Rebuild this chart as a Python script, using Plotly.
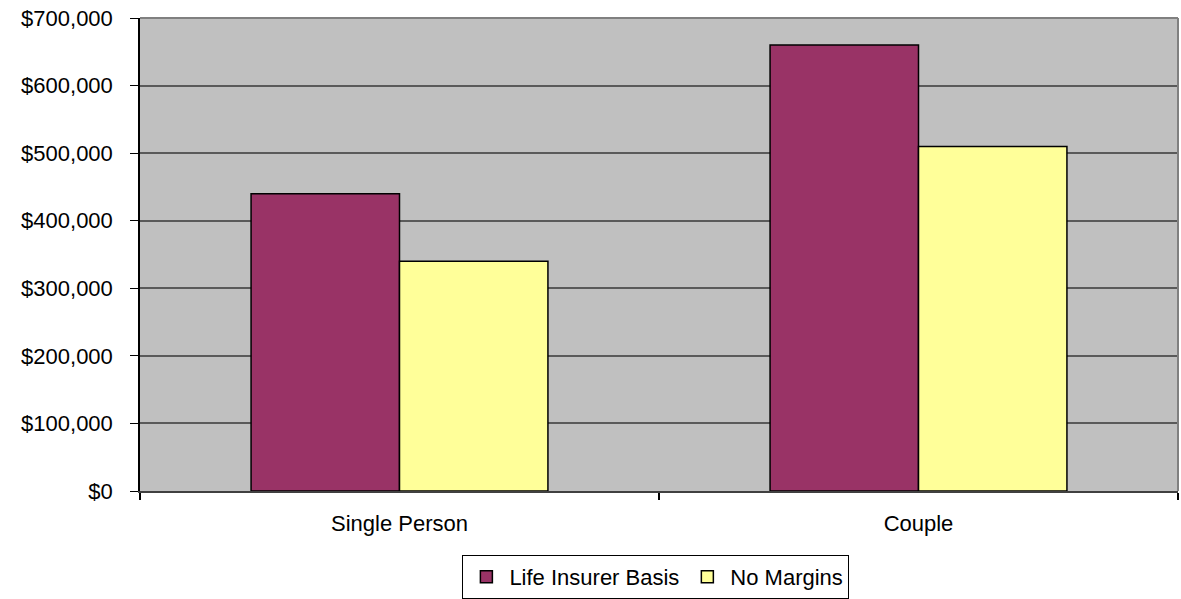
import plotly.graph_objects as go

categories = ["Single Person", "Couple"]
life_insurer_basis = [440000, 660000]
no_margins = [340000, 510000]
y_ticks = [0, 100000, 200000, 300000, 400000, 500000, 600000, 700000]
y_tick_labels = ["${:,}".format(v) for v in y_ticks]

FONT = "Liberation Sans, Arial, sans-serif"

fig = go.Figure()
fig.add_trace(go.Bar(
    name="Life Insurer Basis", x=categories, y=life_insurer_basis,
    marker=dict(color="#993366", line=dict(color="black", width=1.5)),
))
fig.add_trace(go.Bar(
    name="No Margins", x=categories, y=no_margins,
    marker=dict(color="#FFFF99", line=dict(color="black", width=1.5)),
))

fig.update_layout(
    width=1181, height=599,
    margin=dict(l=140, r=3, t=18, b=108, autoexpand=False),
    paper_bgcolor="white",
    plot_bgcolor="#C0C0C0",
    barmode="group", bargap=0.428, bargroupgap=0,
    font=dict(family=FONT, size=22, color="black"),
    legend=dict(
        orientation="h", x=0.497, xanchor="center",
        yref="container", y=0.0, yanchor="bottom",
        bgcolor="white", bordercolor="black", borderwidth=1,
        font=dict(size=22), itemwidth=36, tracegroupgap=0,
    ),
    xaxis=dict(
        type="category", showgrid=False,
        showline=True, linecolor="#404040", linewidth=2, mirror=False,
        ticks="outside", tickson="boundaries", ticklen=7, tickcolor="black", tickwidth=2,
        ticklabelstandoff=12,
    ),
    yaxis=dict(
        range=[0, 700000], tickmode="array", tickvals=y_ticks, ticktext=y_tick_labels,
        showgrid=True, gridcolor="#5a5a5a", gridwidth=1.5,
        showline=True, linecolor="black", linewidth=1.5,
        ticks="outside", ticklen=8, tickcolor="black", ticklabelstandoff=13,
        zeroline=False,
    ),
    showlegend=True,
)

# Frame of the plot area on the top and right sides
fig.add_shape(type="line", xref="paper", yref="paper", x0=0, x1=1, y0=1, y1=1,
              line=dict(color="#808080", width=2))
fig.add_shape(type="line", xref="paper", yref="paper", x0=1, x1=1, y0=0, y1=1,
              line=dict(color="#808080", width=2))

fig.write_html("out.html")
